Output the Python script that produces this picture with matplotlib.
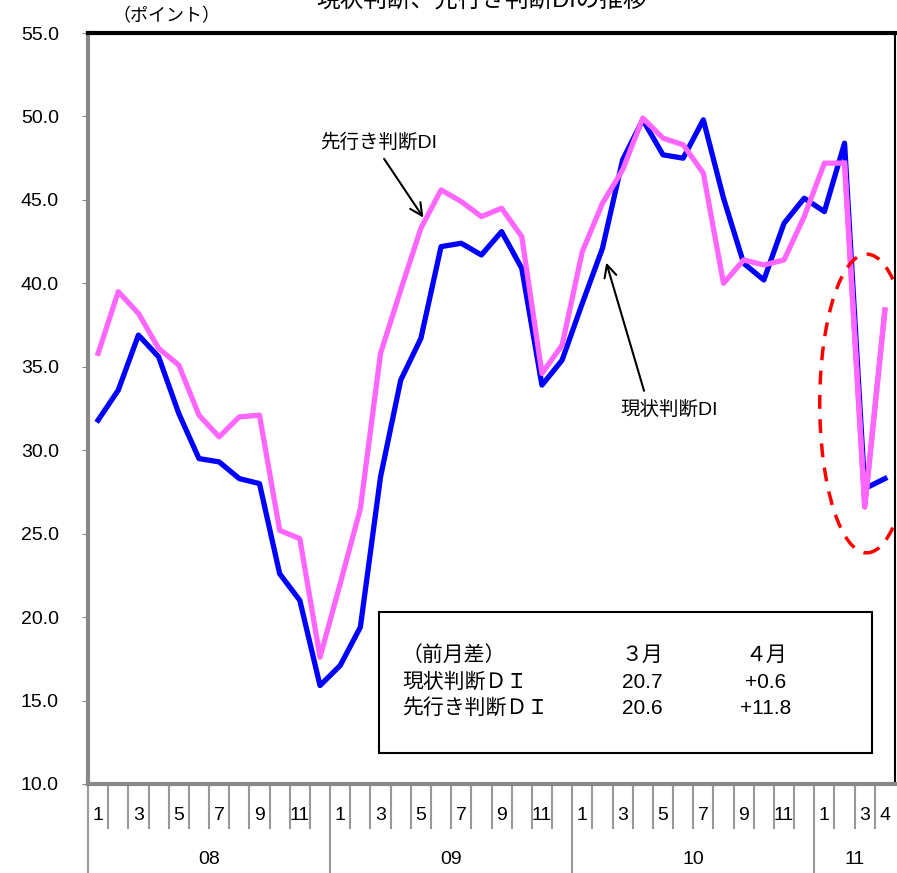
import matplotlib

matplotlib.use("Agg")
import matplotlib.pyplot as plt
import numpy as np
from matplotlib.patches import Ellipse, Rectangle

plt.rcParams["font.family"] = ["Liberation Sans", "Noto Sans CJK JP", "DejaVu Sans"]

# 2008/1 - 2011/4, monthly
years = ["08"] * 12 + ["09"] * 12 + ["10"] * 12 + ["11"] * 4
months = list(range(1, 13)) * 3 + [1, 2, 3, 4]
month_labels = ["1", "", "3", "", "5", "", "7", "", "9", "", "11", ""] * 3 + ["1", "", "3", "4"]

current_di = [31.8, 33.6, 36.9, 35.6, 32.2, 29.5, 29.3, 28.3, 28.0, 22.6, 21.0, 15.9,
              17.1, 19.4, 28.4, 34.2, 36.7, 42.2, 42.4, 41.7, 43.1, 40.9, 33.9, 35.4,
              38.8, 42.1, 47.4, 49.8, 47.7, 47.5, 49.8, 45.1, 41.2, 40.2, 43.6, 45.1,
              44.3, 48.4, 27.7, 28.3]
outlook_di = [35.8, 39.5, 38.2, 36.1, 35.1, 32.1, 30.8, 32.0, 32.1, 25.2, 24.7, 17.6,
              22.0, 26.5, 35.8, 39.6, 43.3, 45.6, 44.9, 44.0, 44.5, 42.8, 34.6, 36.3,
              41.9, 44.8, 46.8, 49.9, 48.7, 48.3, 46.6, 40.0, 41.4, 41.1, 41.4, 44.0,
              47.2, 47.2, 26.6, 38.4]

x = np.arange(len(current_di))
W, H = 897, 873

fig = plt.figure(figsize=(W / 100, H / 100), dpi=100)
ax = fig.add_axes([88 / W, 1 - 784 / H, 807 / W, 751 / H])

ax.plot(x, outlook_di, color="#FF66FF", lw=3.8, zorder=3)
ax.plot(x, current_di, color="#0000FF", lw=3.8, zorder=2)
ax.plot(x[-3:], outlook_di[-3:], color="#FF66FF", lw=3.8, zorder=4)

ax.set_xlim(-0.5, len(x) - 0.5)
ax.set_ylim(10, 55)
ax.set_yticks(np.arange(10, 55.1, 5))
ax.set_yticklabels([f"{v:.1f}" for v in np.arange(10, 55.1, 5)], fontsize=14)
ax.tick_params(axis="y", direction="out", length=4, pad=17, color="#888888")
ax.set_xticks([])

ax.spines["top"].set_linewidth(3)
ax.spines["right"].set_linewidth(1.5)
ax.spines["left"].set_color("#888888")
ax.spines["left"].set_linewidth(3)
ax.spines["bottom"].set_color("#888888")
ax.spines["bottom"].set_linewidth(3)

# red dashed ellipse around the March 2011 drop
ax.add_patch(Ellipse((38.1, 32.8), 4.66, 17.9, fill=False, ec="red", ls=(0, (4, 3)), lw=2.5, zorder=5))

# annotations
ax.text(13.9, 48.45, "先行き判断DI", fontsize=14, ha="center", va="center")
ax.annotate("", xy=(16.2, 43.8), xytext=(14.1, 47.6),
            arrowprops=dict(arrowstyle="->", lw=1.5, mutation_scale=22, color="black"))
ax.text(28.3, 32.4, "現状判断DI", fontsize=14, ha="center", va="center")
ax.annotate("", xy=(25.15, 41.4), xytext=(27.1, 33.4),
            arrowprops=dict(arrowstyle="->", lw=1.5, mutation_scale=22, color="black"))

# category table below the axis
tr = ax.get_xaxis_transform()
for i in range(len(x)):
    is_year = i == 0 or months[i] == 1
    bottom = -0.12 if is_year else -0.059
    ax.plot([i - 0.5, i - 0.5], [-0.003, bottom], transform=tr, color="#999999", lw=1.5, clip_on=False)
for i, lab in enumerate(month_labels):
    if lab:
        ax.text(i, -0.042, lab, transform=tr, ha="center", va="center", fontsize=14, clip_on=False)
for yr in dict.fromkeys(years):
    idx = [i for i, v in enumerate(years) if v == yr]
    ax.text((idx[0] + idx[-1]) / 2, -0.101, yr, transform=tr, ha="center", va="center", fontsize=14)

# titles
fig.text(482 / W, 1 - 0 / H, "現状判断、先行き判断DIの推移", ha="center", va="center", fontsize=17)
fig.text(166 / W, 1 - 17 / H, "（ポイント）", ha="center", va="center", fontsize=13)

# difference box
fig.add_artist(Rectangle((379 / W, 1 - 753 / H), 493 / W, 141 / H, transform=fig.transFigure,
                         fill=True, fc="white", ec="black", lw=1.5, zorder=6))
rows = [("（前月差）", "３月", "４月"), ("現状判断ＤＩ", "20.7", "+0.6"), ("先行き判断ＤＩ", "20.6", "+11.8")]
row_y = [655, 682, 708]
for (a, b, c), py in zip(rows, row_y):
    fig.text(402 / W, 1 - py / H, a, ha="left", va="center", fontsize=15, zorder=7)
    fig.text(642 / W, 1 - py / H, b, ha="center", va="center", fontsize=15, zorder=7)
    fig.text(766 / W, 1 - py / H, c, ha="center", va="center", fontsize=15, zorder=7)

fig.savefig("out.png", dpi=100)
